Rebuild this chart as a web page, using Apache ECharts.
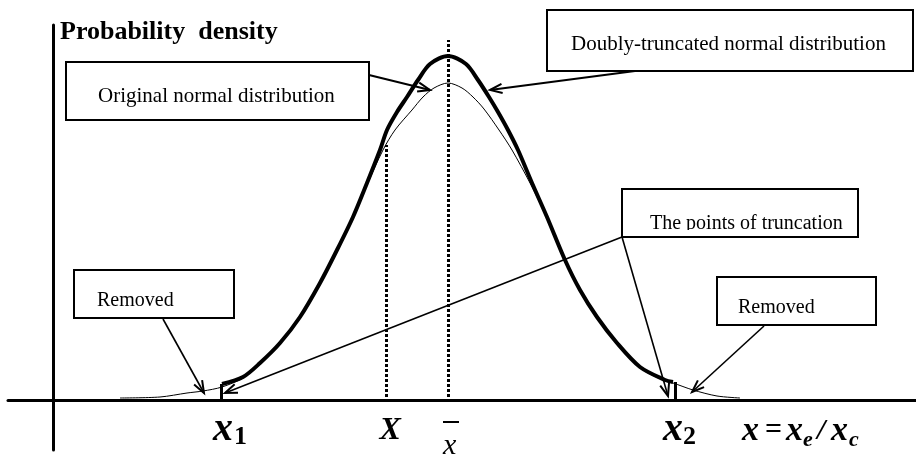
<!DOCTYPE html>
<html>
<head>
<meta charset="utf-8">
<script src="https://cdn.jsdelivr.net/npm/echarts@6/dist/echarts.min.js"></script>
<style>
  html, body { margin: 0; padding: 0; background: #fff; }
  #chart { width: 916px; height: 457px; }
</style>
</head>
<body>
<div id="chart"></div>
<script>
// truncated curve (thick)
const truncX = [16.9, 19.0, 20.7, 22.7, 24.7, 26.7, 28.4, 30.0, 31.4, 32.7, 33.4, 34.4, 35.4, 36.5, 37.7, 39.5,
  41.3, 42.5, 43.6, 44.5, 45.5, 46.5, 47.9, 49.4, 51.2, 52.7, 54.4, 56.4, 58.7, 61.2, 62.0];
const truncY = [1.6, 2.3, 3.7, 5.7, 8.3, 11.7, 15.0, 18.3, 21.7, 25.0, 27.0, 28.8, 30.3, 32.0, 33.6, 34.4,
  33.6, 32.0, 30.3, 28.8, 27.0, 25.0, 21.7, 18.3, 14.0, 11.0, 8.3, 5.7, 3.3, 2.0, 1.8];

// original curve (thin)
const origX = [6.7, 10.7, 13.4, 15.0, 16.9, 19.0, 20.7, 22.7, 24.7, 26.7, 28.4, 30.0, 31.4, 33.0, 34.2, 35.9,
  37.0, 38.1, 39.5, 40.9, 42.0, 43.1, 44.6, 45.9, 47.7, 49.4, 51.1, 52.7, 54.4, 56.4, 58.7, 61.2, 62.0,
  64.0, 66.4, 68.7];
const origY = [0.2, 0.3, 0.7, 0.9, 1.3, 2.2, 3.6, 5.6, 8.2, 11.6, 14.9, 18.2, 21.5, 25.0, 27.0, 29.0,
  30.3, 31.2, 31.7, 31.2, 30.3, 29.1, 27.0, 25.0, 21.7, 18.2, 14.0, 10.9, 8.2, 5.6, 3.2, 1.9, 1.7,
  1.0, 0.4, 0.2];

// marked positions on the x axis
const x1 = 16.8, x2 = 62.2, xMean = 39.5, xCap = 33.35;
const x1Top = 1.6, x2Top = 1.8;

const chart = echarts.init(document.getElementById('chart'));

const zip = (xs, ys) => xs.map((x, i) => [x, ys[i]]);
const serif = '"Liberation Serif", "Times New Roman", serif';

const axisCommon = {
  type: 'value',
  axisLine: { onZero: true, lineStyle: { color: '#000', width: 3 } },
  axisTick: { show: false },
  axisLabel: { show: false },
  splitLine: { show: false }
};

chart.setOption({
  animation: false,
  grid: { left: 8, right: 0, top: 25, bottom: 7 },
  xAxis: Object.assign({}, axisCommon, { min: -4.5, max: 86.3 }),
  yAxis: Object.assign({}, axisCommon, { min: -5, max: 37.5 }),
  series: [
    {
      name: 'dotted',
      type: 'line',
      data: [],
      markLine: {
        silent: true,
        symbol: 'none',
        label: { show: false },
        lineStyle: { color: '#000', width: 3, type: [3, 2] },
        data: [
          [{ coord: [xMean, 0.3] }, { coord: [xMean, 36.0] }],
          [{ coord: [xCap, 0.3] }, { coord: [xCap, 25.5] }]
        ]
      }
    },
    {
      name: 'Original',
      type: 'line',
      data: zip(origX, origY),
      smooth: 0.3,
      showSymbol: false,
      lineStyle: { color: '#000', width: 1 }
    },
    {
      name: 'Truncated',
      type: 'line',
      data: zip(truncX, truncY),
      smooth: 0.3,
      showSymbol: false,
      lineStyle: { color: '#000', width: 4 },
      markLine: {
        silent: true,
        symbol: 'none',
        label: { show: false },
        lineStyle: { color: '#000', width: 3, type: 'solid' },
        data: [
          [{ coord: [x1, 0] }, { coord: [x1, x1Top] }],
          [{ coord: [x2, 0] }, { coord: [x2, x2Top] }]
        ]
      }
    }
  ]
});

const px = (x, y) => chart.convertToPixel({ gridIndex: 0 }, [x, y]);

function txt(text, x, y, size, weight, style, z) {
  return {
    type: 'text', x: x, y: y, z: z || 10,
    style: {
      text: text,
      font: `${style || 'normal'} ${weight || 'normal'} ${size}px ${serif}`,
      fill: '#000',
      textAlign: 'left', textVerticalAlign: 'middle',
      align: 'left', verticalAlign: 'middle'
    }
  };
}

function box(x, y, w, h) {
  return {
    type: 'rect', z: 12,
    shape: { x: x, y: y, width: w, height: h },
    style: { fill: 'none', stroke: '#000', lineWidth: 2 }
  };
}

function arrow(from, tip, width) {
  const dx = tip[0] - from[0], dy = tip[1] - from[1];
  const a = Math.atan2(dy, dx);
  const len = 13, spread = 0.36;
  const p1 = [tip[0] - len * Math.cos(a - spread), tip[1] - len * Math.sin(a - spread)];
  const p2 = [tip[0] - len * Math.cos(a + spread), tip[1] - len * Math.sin(a + spread)];
  return [
    { type: 'line', z: 20, shape: { x1: from[0], y1: from[1], x2: tip[0], y2: tip[1] },
      style: { stroke: '#000', lineWidth: width } },
    { type: 'polyline', z: 20, shape: { points: [p1, tip, p2] },
      style: { stroke: '#000', lineWidth: 2, fill: 'none' } }
  ];
}

const pX1 = px(x1, 0), pX2 = px(x2, 0), pMean = px(xMean, 0), pCap = px(xCap, 0);

const elements = [
  txt('Probability  density', 60, 32, 26, 'bold'),

  box(66, 62, 303, 58),
  txt('Original normal distribution', 98, 96, 21),

  box(547, 10, 366, 61),
  txt('Doubly-truncated normal distribution', 571, 44, 21),

  // truncation box: text clipped at the bottom by a white strip
  txt('The points of truncation', 650, 224, 20, 'normal', 'normal', 8),
  { type: 'rect', z: 9, shape: { x: 623, y: 230, width: 234, height: 7 }, style: { fill: '#fff' } },
  box(622, 189, 236, 48),

  box(74, 270, 160, 48),
  txt('Removed', 97, 301, 20),

  box(717, 277, 159, 48),
  txt('Removed', 738, 308, 20),

  // labels under the axis
  txt('x', pX1[0] - 8, 430, 40, 'bold', 'italic'),
  txt('1', pX1[0] + 13, 437, 26, 'bold'),
  txt('X', pCap[0] - 7, 431, 32, 'bold', 'italic'),
  txt('x', pMean[0] - 5, 446, 30, 'normal', 'italic'),
  { type: 'line', z: 10, shape: { x1: pMean[0] - 5, y1: 422, x2: pMean[0] + 11, y2: 422 },
    style: { stroke: '#000', lineWidth: 2 } },
  txt('x', pX2[0] - 12, 430, 40, 'bold', 'italic'),
  txt('2', pX2[0] + 8, 437, 26, 'bold'),

  txt('x', 742, 431, 34, 'bold', 'italic'),
  txt('=', 765, 430, 30, 'bold'),
  txt('x', 786, 431, 34, 'bold', 'italic'),
  txt('e', 803, 440, 22, 'bold', 'italic'),
  txt('/', 817, 431, 30, 'bold', 'italic'),
  txt('x', 831, 431, 34, 'bold', 'italic'),
  txt('c', 849, 440, 22, 'bold', 'italic')
];

// annotation arrows: tail on a box, tip on the data
const arrows = [
  [[369, 75], px(37.7, 31.0), 2],
  [[635, 71], px(43.7, 31.0), 2],
  [[622, 237], px(17.2, 0.7), 1.6],
  [[622, 237], px(61.5, 0.4), 1.6],
  [[163, 319], px(15.1, 0.7), 1.6],
  [[764, 326], px(63.9, 0.8), 1.6]
];
arrows.forEach(a => { elements.push(...arrow(a[0], a[1], a[2])); });

chart.setOption({ graphic: { elements: elements } });
</script>
</body>
</html>
